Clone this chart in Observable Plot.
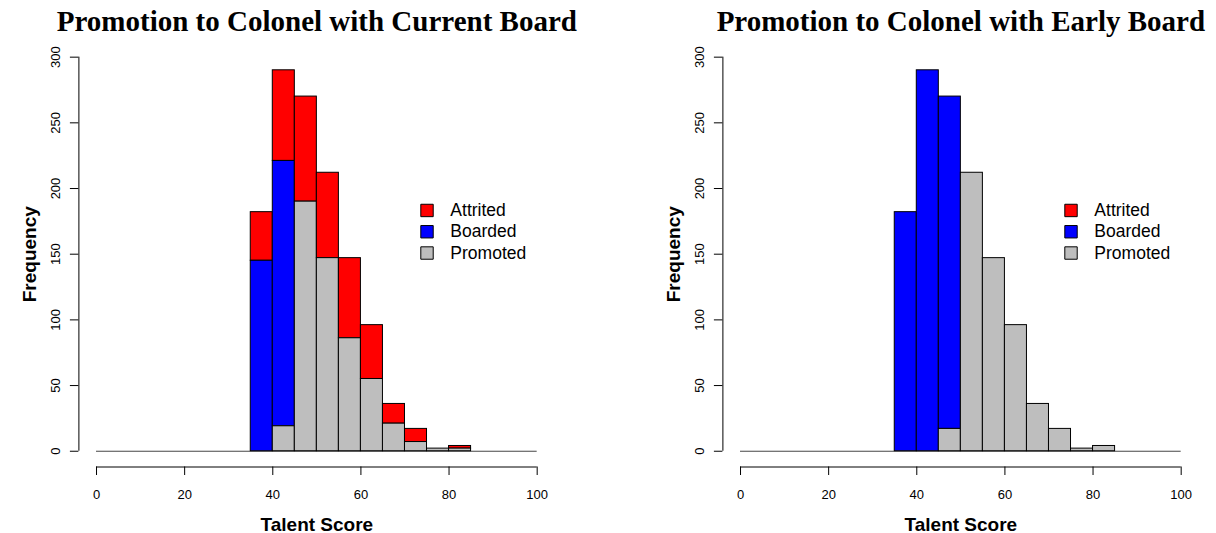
<!DOCTYPE html>
<html>
<head>
<meta charset="utf-8">
<script src="https://cdn.jsdelivr.net/npm/d3@7"></script>
<script src="https://cdn.jsdelivr.net/npm/@observablehq/plot@0.6"></script>
<style>
  html, body { margin: 0; padding: 0; background: #fff; }
  #wrap { display: flex; flex-direction: row; width: 1216px; height: 533px; overflow: hidden; }
</style>
</head>
<body>
<div id="wrap"></div>
<script>
// ---- data ----
const seriesNames = ["Attrited", "Boarded", "Promoted"];
const seriesColors = ["#FF0000", "#0000FF", "#BEBEBE"];
const stackOrder = ["Promoted", "Boarded", "Attrited"];

const binStarts = [0, 5, 10, 15, 20, 25, 30, 35, 40, 45, 50, 55, 60, 65, 70, 75, 80, 85, 90, 95];
const binWidth = 5;

const currentAttrited = [0, 0, 0, 0, 0, 0, 0, 37, 69, 80, 65, 61, 41, 15, 10, 0, 2, 0, 0, 0];
const currentBoarded  = [0, 0, 0, 0, 0, 0, 0, 145, 202, 0, 0, 0, 0, 0, 0, 0, 0, 0, 0, 0];
const currentPromoted = [0, 0, 0, 0, 0, 0, 0, 0, 19, 190, 147, 86, 55, 21, 7, 2, 2, 0, 0, 0];

const earlyAttrited = [0, 0, 0, 0, 0, 0, 0, 0, 0, 0, 0, 0, 0, 0, 0, 0, 0, 0, 0, 0];
const earlyBoarded  = [0, 0, 0, 0, 0, 0, 0, 182, 290, 253, 0, 0, 0, 0, 0, 0, 0, 0, 0, 0];
const earlyPromoted = [0, 0, 0, 0, 0, 0, 0, 0, 0, 17, 212, 147, 96, 36, 17, 2, 4, 0, 0, 0];

const xTicks = [0, 20, 40, 60, 80, 100];
const yTicks = [0, 50, 100, 150, 200, 250, 300];

const titleCurrent = "Promotion to Colonel with Current Board";
const titleEarly = "Promotion to Colonel with Early Board";
const xLabel = "Talent Score";
const yLabel = "Frequency";

// ---- chart ----
const sans = "'Liberation Sans', Arial, Helvetica, sans-serif";
const serif = "'Liberation Serif', 'Times New Roman', Times, serif";

function panel(title, attrited, boarded, promoted, width, marginRight) {
  const rows = [];
  binStarts.forEach((s, i) => {
    rows.push({x1: s, x2: s + binWidth, series: "Attrited", value: attrited[i]});
    rows.push({x1: s, x2: s + binWidth, series: "Boarded", value: boarded[i]});
    rows.push({x1: s, x2: s + binWidth, series: "Promoted", value: promoted[i]});
  });
  const xMin = binStarts[0], xMax = binStarts[binStarts.length - 1] + binWidth;
  const yMin = yTicks[0], yMax = yTicks[yTicks.length - 1];
  const xLo = xMin - 0.04 * (xMax - xMin), xHi = xMax + 0.04 * (xMax - xMin);
  const yLo = yMin - 0.04 * (yMax - yMin), yHi = yMax + 0.04 * (yMax - yMin);

  // legend layout (data units, like R's legend placement)
  const legX = 75, legTextX = 80.3, legTop = 183.3, legStep = 16.2;

  return Plot.plot({
    width, height: 533,
    marginLeft: 78.4, marginRight, marginTop: 40.9, marginBottom: 66.5,
    x: {domain: [xLo, xHi]},
    y: {domain: [yLo, yHi]},
    color: {domain: seriesNames, range: seriesColors},
    style: {fontFamily: sans, fontSize: "13px", background: "#fff", color: "#000"},
    marks: [
      Plot.ruleY([yMin], {x1: xMin, x2: xMax, stroke: "#444", strokeWidth: 1}),
      Plot.rectY(rows.filter(d => d.value > 0), {
        x1: "x1", x2: "x2", y: "value", fill: "series",
        order: stackOrder, stroke: "#000", strokeWidth: 1, inset: 0
      }),
      Plot.ruleX([xLo], {y1: yMin, y2: yMax, stroke: "#000"}),
      Plot.ruleY([yLo], {x1: xTicks[0], x2: xTicks[xTicks.length - 1], stroke: "#000"}),
      Plot.axisY({ticks: yTicks, tickSize: 8.5, tickPadding: 10.25, tickRotate: -90, label: null, fontSize: 13}),
      Plot.axisX({ticks: xTicks, tickSize: 8.5, tickPadding: 13.9, label: null, fontSize: 13}),
      Plot.text([yLabel], {frameAnchor: "left", dx: -49.4, rotate: -90, lineAnchor: "middle",
        textAnchor: "middle", fontWeight: "bold", fontSize: 19, fill: "#000"}),
      Plot.text([xLabel], {frameAnchor: "bottom", dy: 63.5, lineAnchor: "bottom",
        textAnchor: "middle", fontWeight: "bold", fontSize: 19, fill: "#000"}),
      Plot.text([title], {frameAnchor: "top", dy: -10, lineAnchor: "bottom",
        textAnchor: "middle", fontWeight: "bold", fontSize: 29, fontFamily: serif, fill: "#000"}),
      Plot.dot(seriesNames, {x: () => legX, y: (d, i) => legTop - i * legStep, symbol: "square",
        r: 7, fill: d => d, stroke: "#000", strokeWidth: 1}),
      Plot.text(seriesNames, {x: () => legTextX, y: (d, i) => legTop - i * legStep, text: d => d,
        textAnchor: "start", lineAnchor: "middle", fontSize: 17.5, fill: "#000"})
    ]
  });
}

const wrap = document.getElementById("wrap");
wrap.appendChild(panel(titleCurrent, currentAttrited, currentBoarded, currentPromoted, 644, 89.7));
wrap.appendChild(panel(titleEarly, earlyAttrited, earlyBoarded, earlyPromoted, 572, 17.7));
</script>
</body>
</html>
